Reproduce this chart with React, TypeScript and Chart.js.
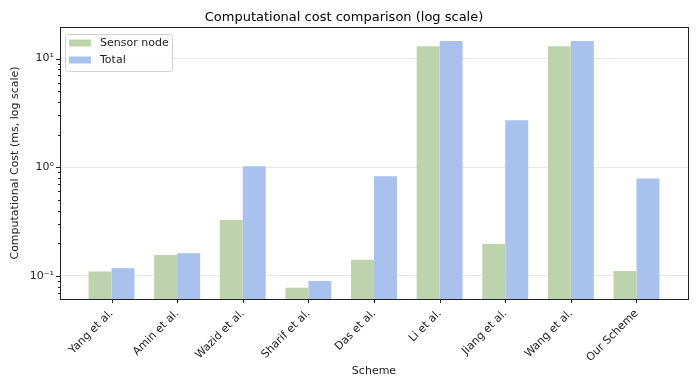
import React, { useEffect, useRef } from "react";
import { Chart, registerables } from "chart.js";

Chart.register(...registerables);

const schemes = [
  "Yang et al.",
  "Amin et al.",
  "Wazid et al.",
  "Sharif et al.",
  "Das et al.",
  "Li et al.",
  "Jiang et al.",
  "Wang et al.",
  "Our Scheme",
];
const sensorNode = [0.11, 0.156, 0.327, 0.078, 0.141, 13.0, 0.197, 13.0, 0.111];
const total = [0.118, 0.162, 1.02, 0.09, 0.826, 14.5, 2.71, 14.5, 0.79];
const yTickValues = [
  0.07, 0.08, 0.09, 0.1, 0.2, 0.3, 0.4, 0.5, 0.6, 0.7, 0.8, 0.9, 1, 2, 3, 4, 5, 6, 7, 8, 9, 10,
];
const yMajorLabels: Record<string, string> = { "-1": "10\u207B\u00B9", "0": "10\u2070", "1": "10\u00B9" };

const FONT = "'DejaVu Sans', sans-serif";
const GREEN = "rgb(189,211,173)";
const BLUE = "rgb(168,194,237)";

const isMajor = (v: number) => {
  const l = Math.log10(v);
  return Math.abs(l - Math.round(l)) < 1e-9;
};

const framePlugin = {
  id: "frame",
  afterDraw(chart: any) {
    const { ctx, chartArea: a, scales } = chart;
    ctx.save();
    // frame
    ctx.strokeStyle = "#222";
    ctx.lineWidth = 1;
    ctx.strokeRect(Math.round(a.left) + 0.5, Math.round(a.top) + 0.5, Math.round(a.right - a.left), Math.round(a.bottom - a.top));
    // y tick marks
    const ys = scales.y;
    ys.ticks.forEach((t: any) => {
      const y = Math.round(ys.getPixelForValue(t.value)) + 0.5;
      const len = isMajor(t.value) ? 4 : 2;
      ctx.beginPath();
      ctx.moveTo(a.left - len, y);
      ctx.lineTo(a.left, y);
      ctx.stroke();
    });
    // x tick marks
    const xs = scales.x;
    for (let i = 0; i < schemes.length; i++) {
      const x = Math.round(xs.getPixelForValue(i)) + 0.5;
      ctx.beginPath();
      ctx.moveTo(x, a.bottom);
      ctx.lineTo(x, a.bottom + 4);
      ctx.stroke();
    }
    // legend
    const lx = a.left + 5;
    const ly = a.top + 7;
    const lw = 107;
    const lh = 37;
    ctx.fillStyle = "rgba(255,255,255,0.85)";
    ctx.strokeStyle = "#d0d0d0";
    ctx.beginPath();
    (ctx as any).roundRect(lx + 0.5, ly + 0.5, lw, lh, 3);
    ctx.fill();
    ctx.stroke();
    const items = [
      { label: "Sensor node", color: GREEN },
      { label: "Total", color: BLUE },
    ];
    ctx.font = `11px ${FONT}`;
    ctx.textBaseline = "middle";
    ctx.textAlign = "left";
    items.forEach((it, i) => {
      const cy = ly + 9 + i * 17;
      ctx.fillStyle = it.color;
      ctx.fillRect(lx + 4, cy - 3.5, 22, 7);
      ctx.fillStyle = "#222";
      ctx.fillText(it.label, lx + 35, cy);
    });
    ctx.restore();
  },
};

export default function App() {
  const ref = useRef<HTMLCanvasElement>(null);
  useEffect(() => {
    if (!ref.current) return;
    const chart = new Chart(ref.current, {
      type: "bar",
      data: {
        datasets: [
          {
            label: "Sensor node",
            data: sensorNode.map((v, i) => ({ x: i, y: v })),
            backgroundColor: GREEN,
            borderWidth: 0,
            categoryPercentage: 0.7,
            barPercentage: 1.0,
          },
          {
            label: "Total",
            data: total.map((v, i) => ({ x: i, y: v })),
            backgroundColor: BLUE,
            borderWidth: 0,
            categoryPercentage: 0.7,
            barPercentage: 1.0,
          },
        ],
      },
      options: {
        animation: false,
        responsive: false,
        maintainAspectRatio: false,
        layout: { padding: { left: 0, right: 12, top: 0, bottom: 0 } },
        plugins: {
          legend: { display: false },
          tooltip: { enabled: false },
          title: {
            display: true,
            text: "Computational cost comparison (log scale)",
            color: "#000",
            font: { family: FONT, size: 13, weight: "normal" },
            padding: { top: 10, bottom: 1.4 },
          },
        },
        scales: {
          x: {
            type: "linear",
            min: -0.785,
            max: 8.785,
            offset: false,
            grid: { display: false, drawTicks: false },
            border: { display: false },
            afterBuildTicks: (s: any) => {
              s.ticks = schemes.map((_, i) => ({ value: i }));
            },
            afterFit: (s: any) => {
              s.height = 90;
            },
            ticks: {
              autoSkip: false,
              minRotation: 45,
              maxRotation: 45,
              padding: 8,
              color: "#222",
              font: { family: FONT, size: 11 },
              callback: (v: any) => schemes[Math.round(Number(v))] ?? "",
            },
            title: {
              display: true,
              text: "Scheme",
              color: "#222",
              font: { family: FONT, size: 11 },
              padding: { top: 0, bottom: 11 },
            },
          },
          y: {
            type: "logarithmic",
            min: 0.0614,
            max: 19.5,
            grid: {
              drawTicks: false,
              color: (c: any) => (c.tick && isMajor(c.tick.value) ? "#e8e8e8" : "rgba(0,0,0,0)"),
              lineWidth: 1,
            },
            border: { display: false },
            afterBuildTicks: (s: any) => {
              s.ticks = yTickValues.map((v) => ({ value: v, major: isMajor(v) }));
            },
            afterFit: (s: any) => {
              s.width = 60;
            },
            ticks: {
              autoSkip: false,
              padding: 6,
              color: "#222",
              font: { family: FONT, size: 11 },
              callback: (v: any) => {
                const n = Number(v);
                if (!isMajor(n)) return "";
                return yMajorLabels[String(Math.round(Math.log10(n)))] ?? "";
              },
            },
            title: {
              display: true,
              text: "Computational Cost (ms, log scale)",
              color: "#222",
              font: { family: FONT, size: 11 },
              padding: { top: 9, bottom: 0 },
            },
          },
        },
      },
      plugins: [framePlugin],
    } as any);
    return () => chart.destroy();
  }, []);
  return (
    <div style={{ position: "fixed", left: 0, top: 0, width: 700, height: 389, background: "#fff" }}>
      <canvas ref={ref} width={700} height={389} style={{ display: "block" }} />
    </div>
  );
}
